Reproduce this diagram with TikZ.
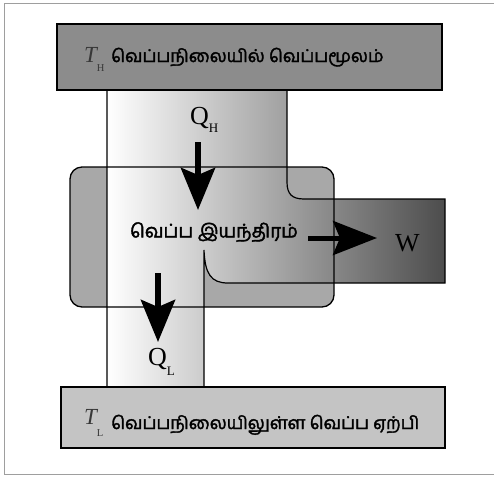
\documentclass[tikz,border=0pt]{standalone}
\usepackage{fontspec}
\setmainfont{Liberation Serif}
\newfontfamily\tamilfont[Script=Tamil, FakeBold=2]{Hind Madurai}
\newfontfamily\symserif{Liberation Serif}
\usetikzlibrary{arrows.meta}

\definecolor{hotbox}{gray}{0.55}
\definecolor{coldbox}{gray}{0.77}
\definecolor{enginegray}{gray}{0.66}
\definecolor{flowdark}{gray}{0.30}
\definecolor{framegray}{gray}{0.62}
\definecolor{symgray}{gray}{0.22}

\tikzset{
  reservoir/.style={draw=black, line width=1.6pt},
  flowline/.style={draw=black, line width=1.2pt},
  engineline/.style={draw=black, line width=1.3pt, rounded corners=12pt},
  heatarrow/.style={line width=6pt, -{Stealth[length=42pt, width=34pt, inset=7pt]}},
  workarrow/.style={line width=5pt, -{Stealth[length=44pt, width=34pt, inset=7pt]}},
  tamiltext/.style={inner sep=0pt, font=\tamilfont\fontsize{17.6}{18}\selectfont},
  symtext/.style={inner sep=0pt, anchor=base west},
}

% main symbol with a lowered upright subscript
\newcommand{\symbolsub}[5]{{\symserif\fontsize{#1}{#1}\selectfont #2}\raisebox{-#4}{\symserif\fontsize{#5}{#5}\selectfont #3}}

\begin{document}
\begin{tikzpicture}[x=1pt, y=-1pt]
  \useasboundingbox (0,0) rectangle (494,477);

  % outer frame
  \draw[framegray, line width=1pt] (4,3.5) rectangle (496,474.5);

  % engine body fill
  \fill[enginegray, rounded corners=12pt] (70,167) rectangle (334,307);

  % heat / work flow channel
  \path[flowline, left color=white, right color=flowdark]
    (107,88) -- (107,389) -- (204,389) -- (204,250)
    .. controls (205,274) and (211,283) .. (228,283)
    -- (445,283) -- (445,199) -- (304,199)
    .. controls (292,199) and (287,194) .. (287,182)
    -- (287,88) -- cycle;

  % engine outline on top of the channel
  \node[engineline, minimum width=264pt, minimum height=140pt, inner sep=0pt]
    (engine) at (202,237) {};

  % reservoirs
  \node[reservoir, fill=hotbox, minimum width=385pt, minimum height=66pt, inner sep=0pt]
    (hot) at (249.5,57) {};
  \node[reservoir, fill=coldbox, minimum width=384pt, minimum height=61pt, inner sep=0pt]
    (cold) at (253,417.5) {};

  % labels of the reservoirs
  \node[symtext, text=symgray] (thot) at (84,62)
    {\symbolsub{23}{\itshape T}{H}{9pt}{10.5}};
  \node[tamiltext, anchor=base west] (hotname) at (111,62) {வெப்பநிலையில் வெப்பமூலம்};
  \node[symtext, text=symgray] (tcold) at (84,424)
    {\symbolsub{23}{\itshape T}{L}{12pt}{10.5}};
  \node[tamiltext, anchor=base west] (coldname) at (111,429) {வெப்பநிலையிலுள்ள வெப்ப ஏற்பி};

  % engine label
  \node[tamiltext, font=\tamilfont\fontsize{18.8}{19}\selectfont] (enginename) at (214,232) {வெப்ப இயந்திரம்};

  % heat and work labels
  \node[symtext] (qh) at (190,124) {\symbolsub{26}{Q}{H}{8pt}{13}};
  \node[symtext] (ql) at (148,365) {\symbolsub{26}{Q}{L}{10pt}{13}};
  \node[symtext] (w) at (395,251) {\symserif\fontsize{26}{26}\selectfont W};

  % arrows
  \coordinate (qh-from) at (198,142);
  \coordinate (qh-to) at (198,210);
  \coordinate (ql-from) at (158,273);
  \coordinate (ql-to) at (158,342);
  \coordinate (w-from) at (308,238);
  \coordinate (w-to) at (377,238);
  \draw[heatarrow] (qh-from) -- (qh-to);
  \draw[heatarrow] (ql-from) -- (ql-to);
  \draw[workarrow] (w-from) -- (w-to);
\end{tikzpicture}
\end{document}
